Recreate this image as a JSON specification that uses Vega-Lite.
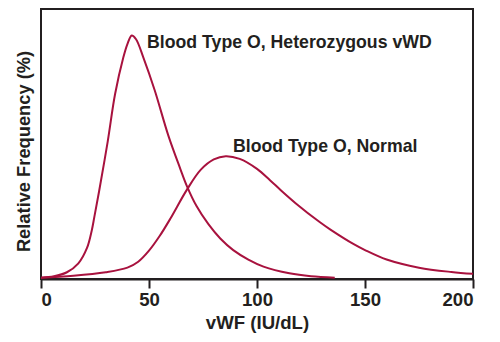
{
  "$schema": "https://vega.github.io/schema/vega-lite/v6.json",
  "width": 432,
  "height": 270,
  "autosize": {"type": "none"},
  "padding": {"left": 41, "top": 9, "right": 27, "bottom": 63},
  "background": "white",
  "config": {
    "view": {"stroke": "#231f20", "strokeWidth": 2},
    "font": "Liberation Sans"
  },
  "datasets": {
    "curves": [
      {"series": "Heterozygous", "vwf": 0, "freq": 0.5},
      {"series": "Heterozygous", "vwf": 6, "freq": 1.0},
      {"series": "Heterozygous", "vwf": 12, "freq": 2.5},
      {"series": "Heterozygous", "vwf": 17.3, "freq": 5.8},
      {"series": "Heterozygous", "vwf": 21.3, "freq": 11.5},
      {"series": "Heterozygous", "vwf": 23.5, "freq": 18},
      {"series": "Heterozygous", "vwf": 24.7, "freq": 23},
      {"series": "Heterozygous", "vwf": 26.9, "freq": 32.5},
      {"series": "Heterozygous", "vwf": 30.9, "freq": 51},
      {"series": "Heterozygous", "vwf": 34.3, "freq": 68.5},
      {"series": "Heterozygous", "vwf": 38.1, "freq": 82},
      {"series": "Heterozygous", "vwf": 40, "freq": 87},
      {"series": "Heterozygous", "vwf": 42, "freq": 90.2},
      {"series": "Heterozygous", "vwf": 44, "freq": 88.8},
      {"series": "Heterozygous", "vwf": 47.4, "freq": 82},
      {"series": "Heterozygous", "vwf": 52.6, "freq": 70},
      {"series": "Heterozygous", "vwf": 59, "freq": 53},
      {"series": "Heterozygous", "vwf": 64.4, "freq": 41},
      {"series": "Heterozygous", "vwf": 67.5, "freq": 34.5},
      {"series": "Heterozygous", "vwf": 72, "freq": 27},
      {"series": "Heterozygous", "vwf": 77.5, "freq": 20.3},
      {"series": "Heterozygous", "vwf": 83, "freq": 15},
      {"series": "Heterozygous", "vwf": 89, "freq": 10.7},
      {"series": "Heterozygous", "vwf": 96, "freq": 7.2},
      {"series": "Heterozygous", "vwf": 103, "freq": 4.6},
      {"series": "Heterozygous", "vwf": 115, "freq": 2.1},
      {"series": "Heterozygous", "vwf": 125, "freq": 1.0},
      {"series": "Heterozygous", "vwf": 136, "freq": 0.5},
      {"series": "Normal", "vwf": 0, "freq": 0.5},
      {"series": "Normal", "vwf": 15, "freq": 1.2},
      {"series": "Normal", "vwf": 30, "freq": 2.5},
      {"series": "Normal", "vwf": 40, "freq": 4.2},
      {"series": "Normal", "vwf": 45, "freq": 6.4},
      {"series": "Normal", "vwf": 50, "freq": 10.5},
      {"series": "Normal", "vwf": 55, "freq": 16},
      {"series": "Normal", "vwf": 60, "freq": 22.5},
      {"series": "Normal", "vwf": 67.5, "freq": 33},
      {"series": "Normal", "vwf": 74, "freq": 40.5},
      {"series": "Normal", "vwf": 80, "freq": 44.3},
      {"series": "Normal", "vwf": 85.5, "freq": 45.5},
      {"series": "Normal", "vwf": 92, "freq": 44.5},
      {"series": "Normal", "vwf": 100, "freq": 40.8},
      {"series": "Normal", "vwf": 106, "freq": 36.6},
      {"series": "Normal", "vwf": 111, "freq": 32.9},
      {"series": "Normal", "vwf": 118, "freq": 28},
      {"series": "Normal", "vwf": 129, "freq": 21.1},
      {"series": "Normal", "vwf": 134, "freq": 18.3},
      {"series": "Normal", "vwf": 145, "freq": 12.8},
      {"series": "Normal", "vwf": 150, "freq": 10.7},
      {"series": "Normal", "vwf": 160, "freq": 7.2},
      {"series": "Normal", "vwf": 175, "freq": 4.2},
      {"series": "Normal", "vwf": 190, "freq": 2.6},
      {"series": "Normal", "vwf": 200, "freq": 1.9}
    ],
    "labels": [
      {"label": "Blood Type O, Heterozygous vWD", "vwf": 49.1, "freq": 85.4},
      {"label": "Blood Type O, Normal", "vwf": 88.9, "freq": 47.2}
    ]
  },
  "layer": [
    {
      "data": {"name": "curves"},
      "mark": {"type": "line", "interpolate": "catmull-rom", "strokeWidth": 2, "color": "#a8123e", "clip": true},
      "encoding": {
        "x": {
          "field": "vwf", "type": "quantitative",
          "scale": {"domain": [0, 200], "nice": false},
          "axis": {
            "title": "vWF (IU/dL)",
            "values": [0, 50, 100, 150, 200],
            "grid": false,
            "domainColor": "#231f20", "domainWidth": 2,
            "tickColor": "#231f20", "tickWidth": 2, "tickSize": 9,
            "labelFontSize": 18.6, "labelFontWeight": "bold", "labelColor": "#231f20", "labelPadding": 2,
            "labelFont": "Liberation Sans",
            "titleFontSize": 18.6, "titleFontWeight": "bold", "titleColor": "#231f20",
            "titleFont": "Liberation Sans", "titlePadding": 5
          }
        },
        "y": {
          "field": "freq", "type": "quantitative",
          "scale": {"domain": [0, 100], "nice": false},
          "axis": {
            "title": "Relative Frequency (%)",
            "labels": false, "ticks": false, "domain": false, "grid": false,
            "titleFontSize": 18.3, "titleFontWeight": "bold", "titleColor": "#231f20",
            "titleFont": "Liberation Sans", "titlePadding": 8, "titleY": 142
          }
        },
        "detail": {"field": "series"}
      }
    },
    {
      "data": {"name": "labels"},
      "mark": {"type": "text", "align": "left", "baseline": "alphabetic", "fontSize": 17.7, "fontWeight": "bold", "color": "#231f20", "font": "Liberation Sans"},
      "encoding": {
        "x": {"field": "vwf", "type": "quantitative"},
        "y": {"field": "freq", "type": "quantitative"},
        "text": {"field": "label"}
      }
    }
  ]
}
